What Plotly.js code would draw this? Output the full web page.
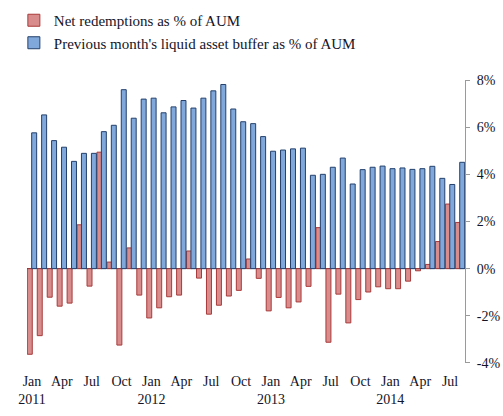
<!DOCTYPE html>
<html><head><meta charset="utf-8">
<script src="https://cdn.plot.ly/plotly-3.0.1.min.js"></script>
<style>html,body{margin:0;padding:0;background:#fff;}#chart{width:503px;height:416px;}</style>
</head><body><div id="chart"></div>
<script>
var months = ['2011-01','2011-02','2011-03','2011-04','2011-05','2011-06','2011-07','2011-08','2011-09','2011-10','2011-11','2011-12',
'2012-01','2012-02','2012-03','2012-04','2012-05','2012-06','2012-07','2012-08','2012-09','2012-10','2012-11','2012-12',
'2013-01','2013-02','2013-03','2013-04','2013-05','2013-06','2013-07','2013-08','2013-09','2013-10','2013-11','2013-12',
'2014-01','2014-02','2014-03','2014-04','2014-05','2014-06','2014-07','2014-08'];
var netRedemptions = [-3.63,-2.84,-1.21,-1.59,-1.46,1.86,-0.74,4.94,0.28,-3.24,0.88,-1.12,
-2.09,-1.66,-1.19,-1.12,0.75,-0.40,-1.93,-1.55,-1.16,-0.92,0.41,-0.41,
-1.79,-1.22,-1.66,-1.41,-0.75,1.74,-3.12,-1.08,-2.30,-1.31,-0.99,-0.77,
-0.85,-0.85,-0.53,-0.09,0.18,1.15,2.74,1.96];
var liquidBuffer = [5.76,6.52,5.43,5.15,4.55,4.89,4.89,5.81,6.08,7.59,6.38,7.19,
7.23,6.61,6.86,7.13,6.81,7.23,7.54,7.81,6.77,6.23,6.15,5.60,
4.98,5.03,5.08,5.11,3.96,4.00,4.30,4.69,3.59,4.20,4.30,4.35,
4.24,4.27,4.21,4.24,4.34,3.83,3.57,4.51];
var xTickVals = ['2011-01','2011-04','2011-07','2011-10','2012-01','2012-04','2012-07','2012-10','2013-01','2013-04','2013-07','2013-10','2014-01','2014-04','2014-07'];
var xTickText = ['Jan<br>2011','Apr','Jul','Oct','Jan<br>2012','Apr','Jul','Oct','Jan<br>2013','Apr','Jul','Oct','Jan<br>2014','Apr','Jul'];
var yTickVals = [-4,-2,0,2,4,6,8];
var yTickText = ['-4%','-2%','0%','2%','4%','6%','8%'];
var seriesNames = ['Net redemptions as % of AUM', "Previous month's liquid asset buffer as % of AUM"];

var font = {family:'"Liberation Serif", "Times New Roman", serif', size:14, color:'#141428'};
var legendFont = {family:'"Liberation Serif", "Times New Roman", serif', size:15, color:'#141428'};
var traces = [
  {type:'bar', x:months, y:netRedemptions, name:seriesNames[0], width:0.5, offset:-0.47,
   marker:{color:'#d98c8c', line:{color:'#a83a3a', width:1}}},
  {type:'bar', x:months, y:liquidBuffer, name:seriesNames[1], width:0.5, offset:-0.03,
   marker:{color:'#80a8da', line:{color:'#23406c', width:1}}}
];
var layout = {
  width:503, height:416,
  margin:{l:27, r:38, t:0, b:53, autoexpand:false},
  paper_bgcolor:'#fff', plot_bgcolor:'#fff',
  font:font,
  barmode:'overlay',
  showlegend:true,
  legend:{x:-0.03, y:0.989, xanchor:'left', yanchor:'top', font:legendFont, bgcolor:'rgba(0,0,0,0)', tracegroupgap:0, itemwidth:30},
  xaxis:{type:'category', categoryorder:'array', categoryarray:months, range:[-0.5,43.5],
    tickmode:'array', tickvals:xTickVals, ticktext:xTickText, showgrid:false, zeroline:false,
    showline:false, ticks:'', tickfont:font, tickangle:0, ticklabelstandoff:8},
  yaxis:{side:'right', range:[-4,8], domain:[0, 0.7796], tickmode:'array', tickvals:yTickVals, ticktext:yTickText,
    showgrid:false, zeroline:true, zerolinecolor:'#1c2a48', zerolinewidth:1,
    showline:true, linecolor:'#9a9a9a', linewidth:1, ticks:'outside', ticklen:4, tickcolor:'#9a9a9a',
    tickfont:font, ticklabelstandoff:4}
};
Plotly.newPlot('chart', traces, layout, {displayModeBar:false, staticPlot:true});
</script>
</body></html>
